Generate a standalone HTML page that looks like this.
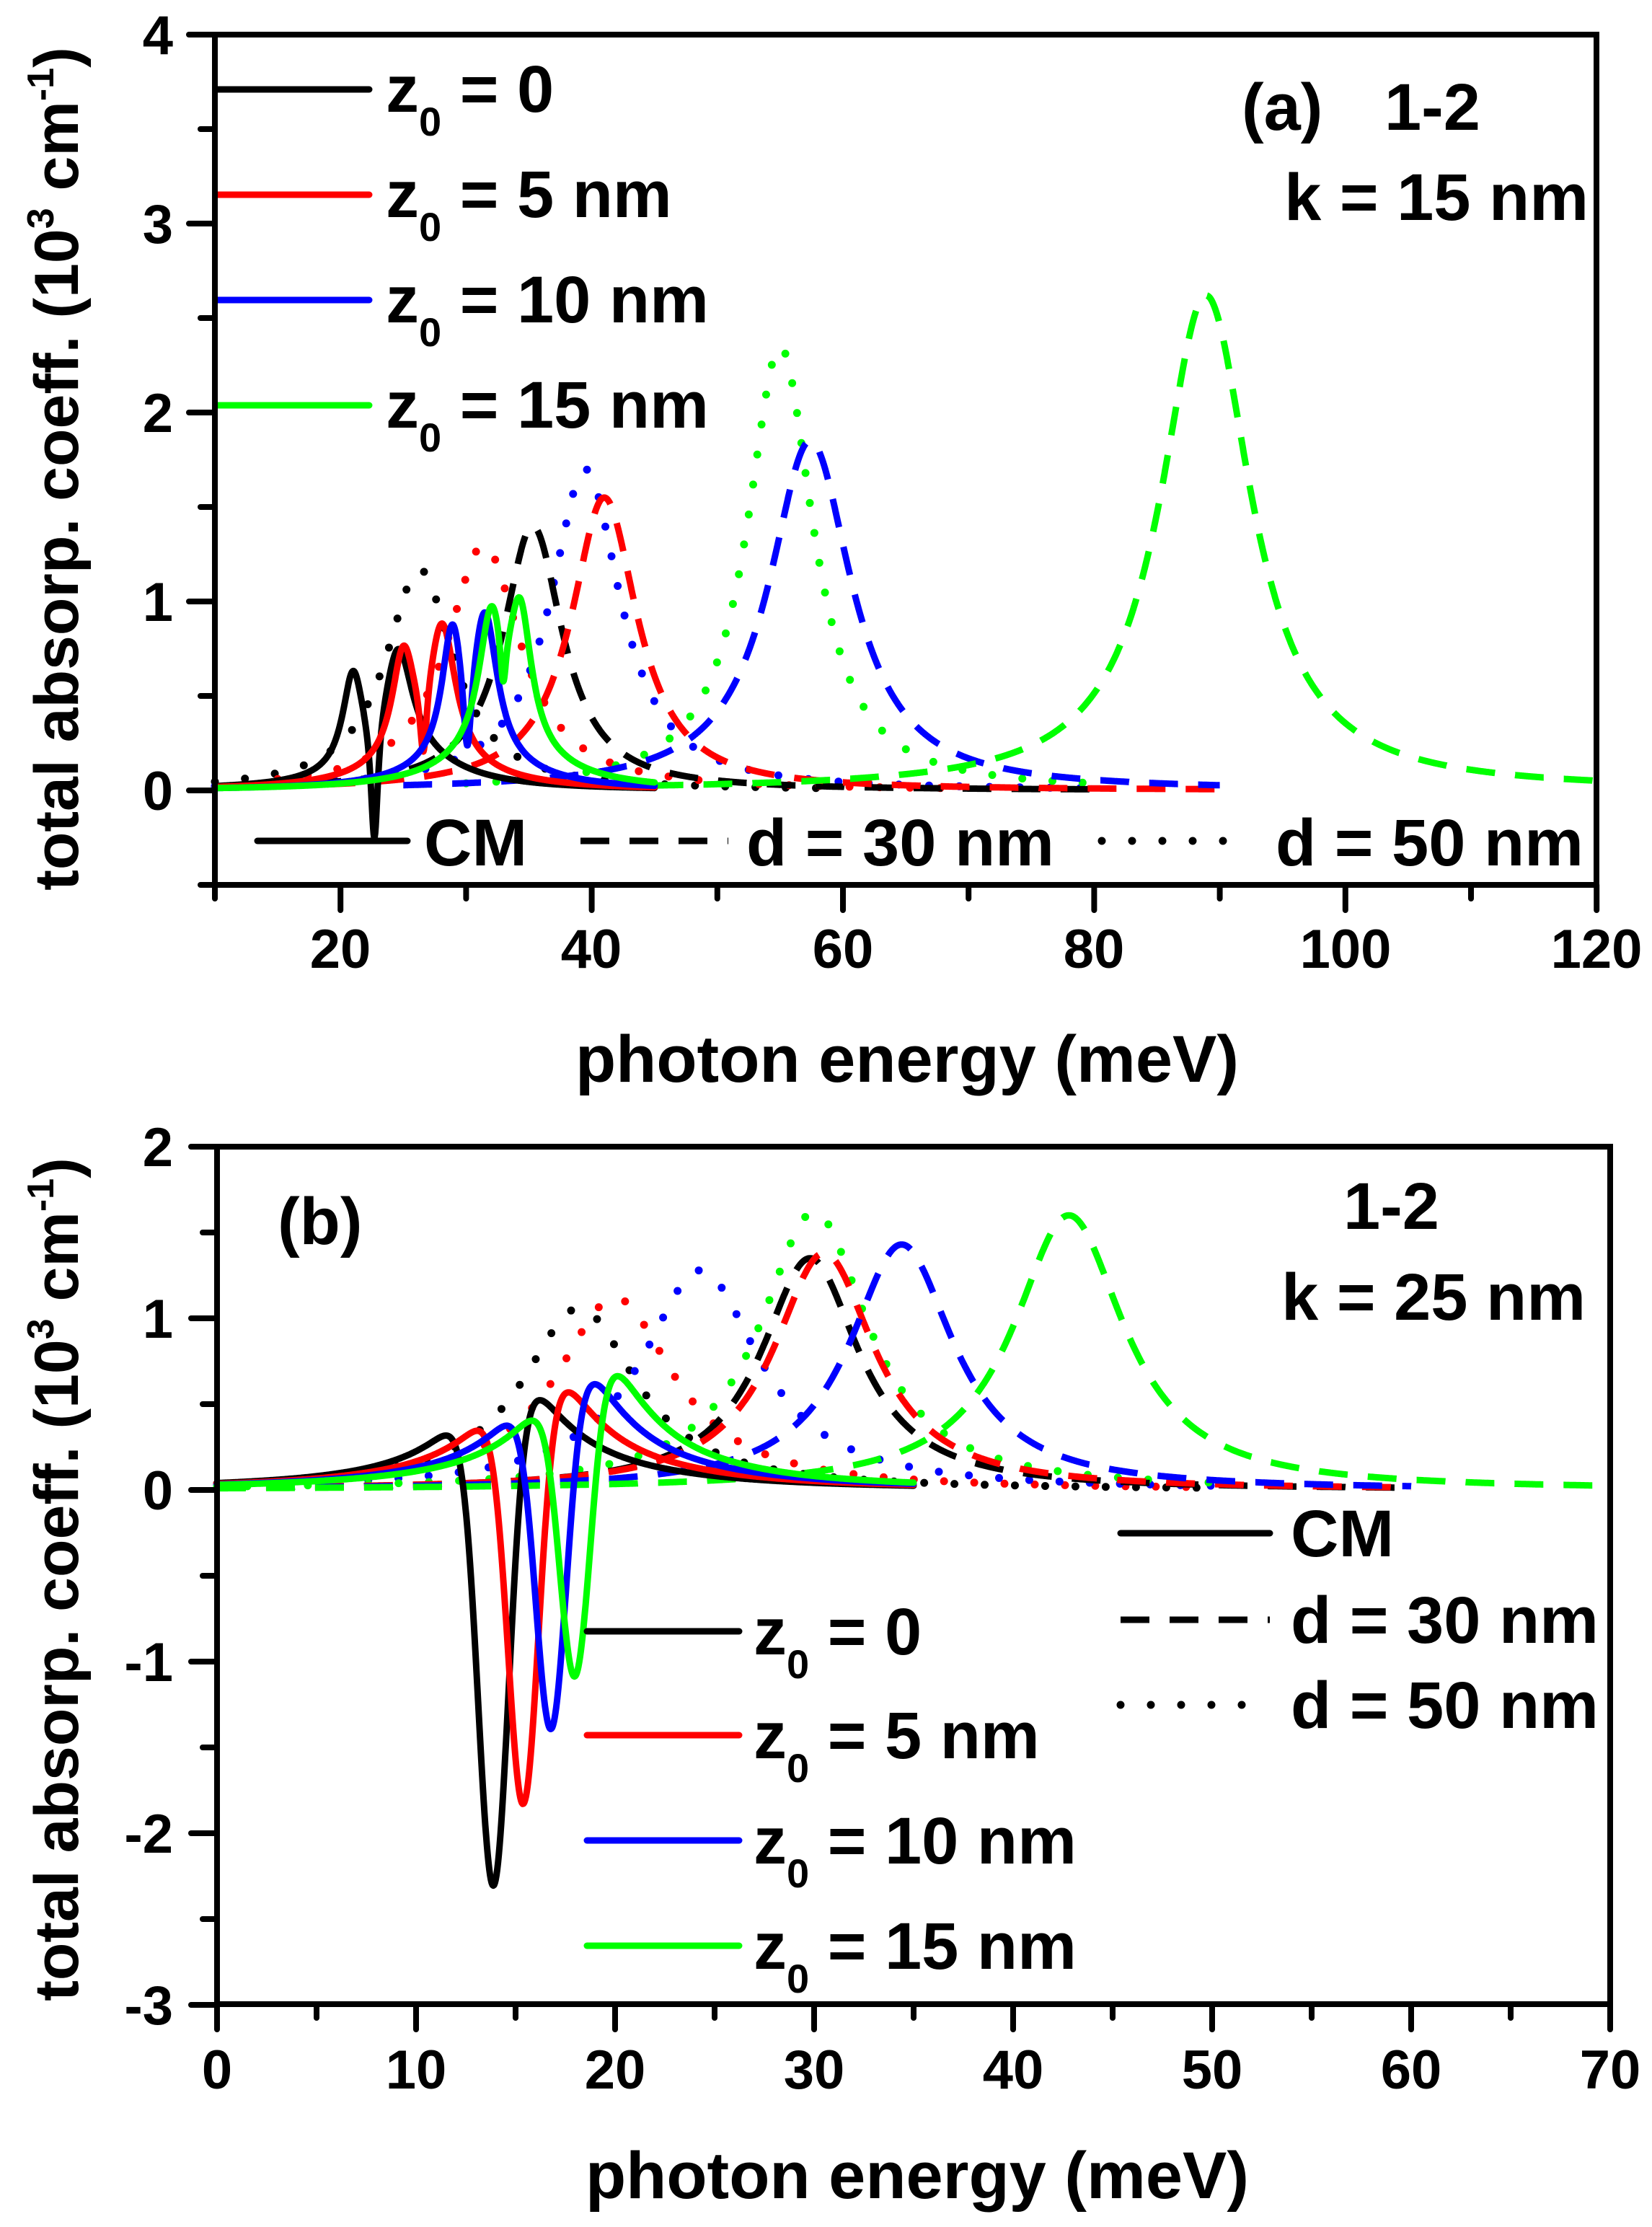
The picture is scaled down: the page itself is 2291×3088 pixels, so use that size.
<!DOCTYPE html>
<html><head><meta charset="utf-8"><style>
html,body{margin:0;padding:0;background:#fff;}
svg{display:block;}
text{font-family:"Liberation Sans",Arial,sans-serif;font-weight:bold;fill:#000;}
</style></head><body>
<svg id="s" width="2291" height="3088" viewBox="0 0 2291 3088" xmlns="http://www.w3.org/2000/svg">
<g id="curves" fill="none" stroke-linejoin="round"></g>
<g id="axes" stroke="#000" stroke-width="8" stroke-linecap="round" fill="none"></g>
<g font-size="76" text-anchor="end">
<text x="240" y="75">4</text><text x="240" y="337">3</text><text x="240" y="599">2</text><text x="240" y="861">1</text><text x="240" y="1123">0</text>
</g>
<g font-size="76" text-anchor="middle">
<text x="472" y="1342">20</text><text x="820" y="1342">40</text><text x="1169" y="1342">60</text><text x="1517" y="1342">80</text><text x="1866" y="1342">100</text><text x="2214" y="1342">120</text>
</g>
<text x="1258" y="1500" font-size="92" text-anchor="middle">photon energy (meV)</text>
<text transform="translate(108,650) rotate(-90)" font-size="86" text-anchor="middle">total absorp. coeff. (10<tspan font-size="52" dy="-34">3</tspan><tspan dy="34"> cm</tspan><tspan font-size="52" dy="-34">-1</tspan><tspan dy="34">)</tspan></text>
<g font-size="92">
<text x="535" y="155">z<tspan font-size="56" dy="33">0</tspan><tspan dy="-33"> = 0</tspan></text>
<text x="535" y="301">z<tspan font-size="56" dy="33">0</tspan><tspan dy="-33"> = 5 nm</tspan></text>
<text x="535" y="447">z<tspan font-size="56" dy="33">0</tspan><tspan dy="-33"> = 10 nm</tspan></text>
<text x="535" y="593">z<tspan font-size="56" dy="33">0</tspan><tspan dy="-33"> = 15 nm</tspan></text>
<text x="1722" y="180">(a)</text><text x="1920" y="180">1-2</text>
<text x="2203" y="305" text-anchor="end">k = 15 nm</text>
<text x="588" y="1200">CM</text>
<text x="1035" y="1200">d = 30 nm</text>
<text x="1769" y="1200">d = 50 nm</text>
</g>
<g font-size="76" text-anchor="end">
<text x="240" y="1617">2</text><text x="240" y="1855">1</text><text x="240" y="2093">0</text><text x="240" y="2331">-1</text><text x="240" y="2569">-2</text><text x="240" y="2807">-3</text>
</g>
<g font-size="76" text-anchor="middle">
<text x="301" y="2896">0</text><text x="577" y="2896">10</text><text x="853" y="2896">20</text><text x="1129" y="2896">30</text><text x="1405" y="2896">40</text><text x="1681" y="2896">50</text><text x="1957" y="2896">60</text><text x="2233" y="2896">70</text>
</g>
<text x="1272" y="3048" font-size="92" text-anchor="middle">photon energy (meV)</text>
<text transform="translate(108,2190) rotate(-90)" font-size="86" text-anchor="middle">total absorp. coeff. (10<tspan font-size="52" dy="-34">3</tspan><tspan dy="34"> cm</tspan><tspan font-size="52" dy="-34">-1</tspan><tspan dy="34">)</tspan></text>
<g font-size="92">
<text x="385" y="1725">(b)</text>
<text x="1863" y="1704">1-2</text>
<text x="2199" y="1830" text-anchor="end">k = 25 nm</text>
<text x="1790" y="2158">CM</text>
<text x="1790" y="2278">d = 30 nm</text>
<text x="1790" y="2396">d = 50 nm</text>
<text x="1045" y="2294">z<tspan font-size="56" dy="33">0</tspan><tspan dy="-33"> = 0</tspan></text>
<text x="1045" y="2438">z<tspan font-size="56" dy="33">0</tspan><tspan dy="-33"> = 5 nm</tspan></text>
<text x="1045" y="2584">z<tspan font-size="56" dy="33">0</tspan><tspan dy="-33"> = 10 nm</tspan></text>
<text x="1045" y="2730">z<tspan font-size="56" dy="33">0</tspan><tspan dy="-33"> = 15 nm</tspan></text>
</g>
</svg>
<script>
(function(){
var NS="http://www.w3.org/2000/svg";
var cg=document.getElementById("curves"), ag=document.getElementById("axes");
function el(p,tag,attrs){var e=document.createElementNS(NS,tag);for(var k in attrs)e.setAttribute(k,attrs[k]);p.appendChild(e);return e;}
function L(E,a,c,g){var t=(E-c)/g;return a/(1+t*t);}
function G(E,a,c,s){var t=(E-c)/s;return a*Math.exp(-t*t);}
var COL={k:"#000",r:"#ff0000",b:"#0000ff",g:"#00ff00"};
var STY={
 solid:{w:9,da:null,cap:"round"},
 dash:{w:9,da:"40 28",cap:"butt"},
 dot:{w:11,da:"0 42",cap:"round"}
};
function draw(X,Y,f,e0,e1,col,sty){
 var d="",st=0.04;
 for(var E=e0;E<=e1+1e-9;E+=st){var x=X(E),y=Y(f(E));d+=(d?"L":"M")+x.toFixed(1)+","+y.toFixed(1);}
 var s=STY[sty];var a={d:d,stroke:COL[col],"stroke-width":s.w,"stroke-linecap":s.cap};
 if(s.da)a["stroke-dasharray"]=s.da;
 el(cg,"path",a);
}
var Xa=function(E){return 298+(E-10)*17.42;}, Ya=function(v){return 1096-v*262;};
function sa(p){return function(E){var s=0;for(var i=0;i<p.length;i++)s+=L(E,p[i][0],p[i][1],p[i][2]);return s;};}
draw(Xa,Ya,sa([[1.17,26.3,3.3]]),10,60,"k","dot");
draw(Xa,Ya,sa([[1.3,31.4,3.6]]),15,70,"r","dot");
draw(Xa,Ya,sa([[1.7,39.5,3.4]]),10,80,"b","dot");
draw(Xa,Ya,sa([[2.35,55.0,3.2]]),30,80,"g","dot");
draw(Xa,Ya,sa([[1.4,35.3,2.9]]),10,80,"k","dash");
draw(Xa,Ya,sa([[1.55,41.0,3.2]]),15,90,"r","dash");
draw(Xa,Ya,sa([[1.85,57.4,4.0]]),25,90,"b","dash");
draw(Xa,Ya,sa([[2.62,88.9,4.4]]),45,120,"g","dash");
draw(Xa,Ya,sa([[0.5,21,1.0],[0.59,24.6,1.4],[0.15,25.5,5],[-0.7,22.7,0.35]]),10,45,"k","solid");
draw(Xa,Ya,sa([[0.55,25,1.1],[0.7,28.1,1.3],[0.15,27,5],[-0.42,26.6,0.35]]),10,45,"r","solid");
draw(Xa,Ya,sa([[0.66,28.9,1.0],[0.75,31.5,1.2],[0.15,30.5,5],[-0.5,30.1,0.4]]),10,45,"b","solid");
draw(Xa,Ya,sa([[0.68,32.0,1.2],[0.7,34.3,1.1],[0.2,33,5],[-0.32,32.95,0.3]]),10,45,"g","solid");
var Xb=function(E){return 301+E*27.6;}, Yb=function(v){return 2066-v*238;};
draw(Xb,Yb,sa([[1.06,18.2,3.5]]),0,50,"k","dot");
draw(Xb,Yb,sa([[1.12,20.0,3.6]]),0,50,"r","dot");
draw(Xb,Yb,sa([[1.28,24.3,3.6]]),0,50,"b","dot");
draw(Xb,Yb,sa([[1.62,30.0,3.3]]),0,50,"g","dot");
draw(Xb,Yb,sa([[1.35,29.8,3.0]]),0,60,"k","dash");
draw(Xb,Yb,sa([[1.38,30.5,3.1]]),0,60,"r","dash");
draw(Xb,Yb,sa([[1.43,34.4,3.2]]),0,60,"b","dash");
draw(Xb,Yb,sa([[1.6,42.8,3.4]]),0,70,"g","dash");
function sb(c,B,D){return function(E){return L(E,B,c+0.8,3.0)+L(E,0.08,c+2,8)-G(E,D,c,1.1);};}
draw(Xb,Yb,sb(13.9,0.6,2.94),0,35,"k","solid");
draw(Xb,Yb,sb(15.4,0.65,2.51),0,35,"r","solid");
draw(Xb,Yb,sb(16.8,0.7,2.12),0,35,"b","solid");
draw(Xb,Yb,sb(18.0,0.75,1.86),0,35,"g","solid");
function lg(x0,x1,y,col,sty){var s=STY[sty];var a={d:"M"+x0+","+y+"L"+x1+","+y,stroke:COL[col],"stroke-width":s.w,"stroke-linecap":s.cap};if(s.da)a["stroke-dasharray"]=s.da;el(cg,"path",a);}
lg(302,512,124,"k","solid");lg(302,512,270,"r","solid");lg(302,512,416,"b","solid");lg(302,512,562,"g","solid");
lg(357,565,1166,"k","solid");lg(805,1010,1166,"k","dash");lg(1528,1716,1166,"k","dot");
lg(1554,1761,2126,"k","solid");lg(1554,1761,2246,"k","dash");lg(1554,1761,2364,"k","dot");
lg(814,1025,2262,"k","solid");lg(814,1025,2406,"r","solid");lg(814,1025,2552,"b","solid");lg(814,1025,2698,"g","solid");
function ln(x0,y0,x1,y1){el(ag,"path",{d:"M"+x0+","+y0+"L"+x1+","+y1});}
el(ag,"rect",{x:298,y:48,width:1916,height:1179,"stroke-linecap":"butt"});
for(var v=-0.5;v<=4.001;v+=0.5){var y=Ya(v);var maj=Math.abs(v-Math.round(v))<1e-6;ln(298,y,maj?262:278,y);}
for(var E=10;E<=120;E+=10){var x=Xa(E);var maj=(E%20==0);ln(x,1227,x,maj?1262:1246);}
el(ag,"rect",{x:301,y:1590,width:1932,height:1189,"stroke-linecap":"butt"});
for(var v=-3;v<=2.001;v+=0.5){var y=Yb(v);var maj=Math.abs(v-Math.round(v))<1e-6;ln(301,y,maj?265:281,y);}
for(var E=0;E<=70;E+=5){var x=Xb(E);var maj=(E%10==0);ln(x,2779,x,maj?2814:2798);}
})();
</script>
</body></html>
